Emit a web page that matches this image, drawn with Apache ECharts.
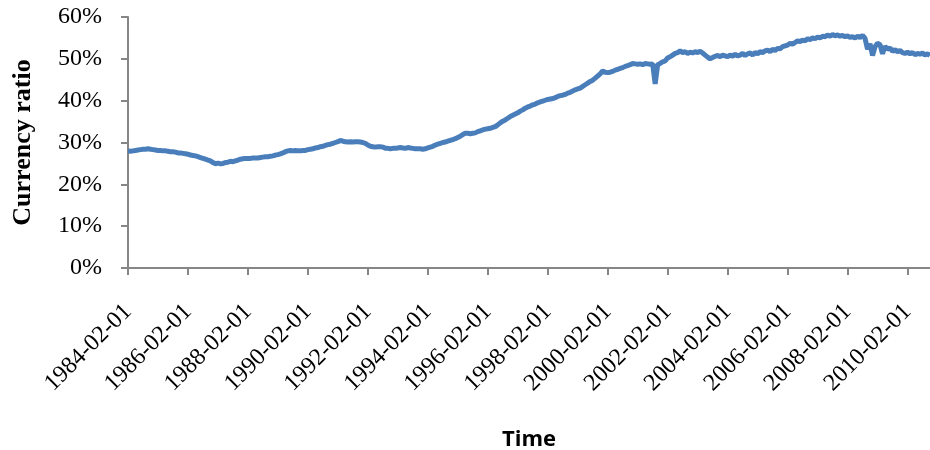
<!DOCTYPE html>
<html>
<head>
<meta charset="utf-8">
<script src="https://cdn.jsdelivr.net/npm/echarts@6/dist/echarts.min.js"></script>
<style>
    html, body { margin: 0; padding: 0; background: #fff; }
    #chart { width: 930px; height: 450px; }
</style>
</head>
<body>
<div id="chart"></div>
<script>
// monthly, 1984-02 .. 2010-11
const startYear = 1984;
const startMonth = 2;
const yTicks = [0, 10, 20, 30, 40, 50, 60];

// currency ratio in %, one row per 12 months starting Feb
const ratio = [
    28.0, 27.9, 28.0, 28.1, 28.2, 28.3, 28.4, 28.4, 28.5, 28.4, 28.3, 28.2,
    28.1, 28.1, 28.0, 28.0, 27.9, 27.8, 27.8, 27.7, 27.5, 27.5, 27.4, 27.3,
    27.2, 27.0, 26.9, 26.8, 26.6, 26.4, 26.2, 26.0, 25.8, 25.6, 25.2, 24.9,
    25.1, 24.9, 25.0, 25.2, 25.3, 25.5, 25.4, 25.6, 25.8, 26.0, 26.1, 26.2,
    26.2, 26.2, 26.3, 26.3, 26.3, 26.4, 26.5, 26.6, 26.6, 26.7, 26.8, 27.0,
    27.1, 27.3, 27.5, 27.8, 28.0, 28.1, 28.0, 28.1, 28.0, 28.0, 28.1, 28.1,
    28.3, 28.4, 28.5, 28.7, 28.8, 29.0, 29.1, 29.3, 29.5, 29.6, 29.8, 30.0,
    30.2, 30.5, 30.3, 30.2, 30.1, 30.2, 30.1, 30.2, 30.2, 30.1, 30.0, 29.8,
    29.4, 29.1, 29.0, 28.9, 29.0, 29.0, 28.9, 28.6, 28.6, 28.5, 28.6, 28.6,
    28.7, 28.8, 28.7, 28.6, 28.8, 28.7, 28.6, 28.5, 28.5, 28.5, 28.4, 28.5,
    28.7, 28.9, 29.1, 29.4, 29.6, 29.8, 30.0, 30.1, 30.3, 30.5, 30.7, 30.9,
    31.2, 31.5, 31.9, 32.2, 32.2, 32.1, 32.2, 32.3, 32.6, 32.8, 33.0, 33.2,
    33.3, 33.4, 33.6, 33.8, 34.2, 34.7, 35.1, 35.4, 35.8, 36.2, 36.5, 36.8,
    37.1, 37.5, 37.8, 38.2, 38.5, 38.7, 39.0, 39.2, 39.5, 39.7, 39.9, 40.1,
    40.3, 40.4, 40.5, 40.7, 41.0, 41.2, 41.3, 41.5, 41.8, 42.0, 42.3, 42.6,
    42.8, 43.0, 43.4, 43.8, 44.2, 44.6, 44.9, 45.4, 45.9, 46.4, 47.1, 46.8,
    46.7, 46.8, 47.0, 47.3, 47.5, 47.7, 47.9, 48.2, 48.4, 48.6, 48.9, 48.8,
    48.7, 48.8, 48.6, 48.9, 48.8, 48.7, 48.8, 44.0, 48.6, 48.9, 49.3, 49.5,
    50.2, 50.5, 50.9, 51.3, 51.5, 51.9, 51.5, 51.7, 51.3, 51.6, 51.4, 51.7,
    51.5, 51.8, 51.4, 50.9, 50.4, 50.0, 50.3, 50.6, 50.8, 50.5, 50.9, 50.7,
    50.5, 50.9, 50.6, 51.1, 50.7, 50.9, 51.3, 50.8, 51.2, 51.4, 50.9, 51.5,
    51.2, 51.7, 51.5, 51.9, 52.1, 51.7, 52.3, 52.0, 52.5, 52.4, 52.9, 53.1,
    53.3, 53.7, 53.5, 53.9, 54.3, 54.1, 54.5, 54.3, 54.8, 54.6, 55.0, 54.8,
    55.2, 55.0, 55.4, 55.3, 55.7, 55.4, 55.8, 55.5, 55.7, 55.4, 55.6, 55.3,
    55.5, 55.1, 55.3, 55.0, 55.4, 55.1, 55.6, 54.9, 52.3, 53.6, 50.8, 52.9,
    53.7, 53.4, 51.2, 53.0, 52.3, 52.6, 51.8, 52.2, 51.7, 52.0, 51.5, 51.3,
    51.6, 51.2, 51.5, 51.0, 51.3, 51.1, 51.4, 50.9, 51.2, 50.8
];

const categories = [];
for (let i = 0; i < ratio.length; i++) {
    const m = startMonth - 1 + i;
    const y = startYear + Math.floor(m / 12);
    const mm = (m % 12) + 1;
    categories.push(y + '-' + (mm < 10 ? '0' + mm : mm) + '-01');
}

const axisColor = '#868686';
const serif = '"Liberation Serif", "DejaVu Serif", serif';

const option = {
    animation: false,
    grid: {
        left: 128,
        right: 0,
        top: 17,
        bottom: 182,
        outerBoundsMode: 'none'
    },
    xAxis: {
        type: 'category',
        data: categories,
        boundaryGap: false,
        name: 'Time',
        nameLocation: 'middle',
        nameGap: 161,
        nameTextStyle: {
            fontFamily: '"Open Sans", "Liberation Sans", sans-serif',
            fontWeight: 'bold',
            fontSize: 22,
            color: '#000'
        },
        axisLine: { lineStyle: { color: axisColor, width: 2 } },
        axisTick: { interval: 23, length: 7, lineStyle: { color: axisColor, width: 2 } },
        axisLabel: {
            interval: 23,
            rotate: 45,
            margin: 40,
            fontFamily: serif,
            fontSize: 24,
            color: '#000'
        },
        splitLine: { show: false }
    },
    yAxis: {
        type: 'value',
        min: yTicks[0],
        max: yTicks[yTicks.length - 1],
        interval: 10,
        name: 'Currency ratio',
        nameLocation: 'middle',
        nameGap: 92,
        nameTextStyle: {
            fontFamily: serif,
            fontWeight: 'bold',
            fontSize: 26,
            color: '#000'
        },
        axisLine: { show: true, lineStyle: { color: axisColor, width: 2 } },
        axisTick: { show: true, length: 7, lineStyle: { color: axisColor, width: 2 } },
        axisLabel: {
            margin: 26,
            fontFamily: serif,
            fontSize: 24,
            color: '#000',
            formatter: v => v + '%'
        },
        splitLine: { show: false }
    },
    series: [
        {
            name: 'Currency ratio',
            type: 'line',
            data: ratio,
            showSymbol: false,
            lineStyle: { color: '#4a7ebb', width: 5 },
            itemStyle: { color: '#4a7ebb' }
        }
    ]
};

const chart = echarts.init(document.getElementById('chart'));
chart.setOption(option);
</script>
</body>
</html>
